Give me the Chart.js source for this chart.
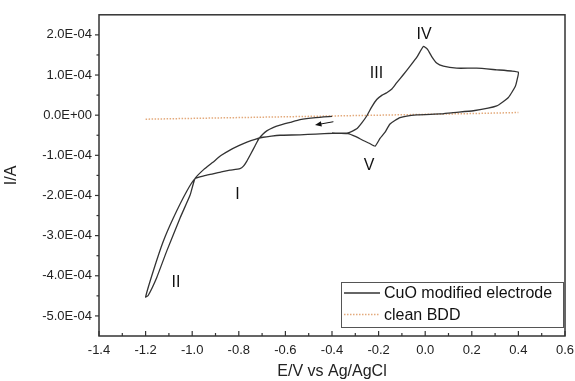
<!DOCTYPE html>
<html><head><meta charset="utf-8">
<script src="https://cdn.jsdelivr.net/npm/chart.js@4"></script>
<style>html,body{margin:0;padding:0;background:#fff;}#wrap{width:575px;height:381px;}</style>
</head><body><div id="wrap"><canvas id="c" width="575" height="381"></canvas></div>
<script>
// CuO modified electrode cyclic voltammogram (E in V, I in A)
const cvPotential = [
 -0.400,-0.470,-0.537,-0.580,-0.623,-0.653,-0.680,-0.696,-0.713,-0.730,-0.750,-0.766,-0.780,-0.795,-0.838,-0.875,-0.911,-0.950,-0.988,-1.024,-1.081,-1.124,-1.167,-1.200,
 -1.189,-1.152,-1.109,-1.052,-1.009,-0.988,-0.950,-0.911,-0.875,-0.838,-0.800,-0.765,-0.730,-0.696,-0.660,-0.623,-0.537,-0.470,-0.396,-0.331,
 -0.294,-0.272,-0.251,-0.230,-0.208,-0.185,-0.165,-0.142,-0.122,-0.095,-0.065,-0.035,-0.008,0.010,0.028,0.049,0.078,0.135,0.221,0.307,0.370,0.400,
 0.396,0.387,0.357,0.307,0.207,0.119,0.064,-0.036,-0.108,-0.151,-0.173,-0.194,-0.215,-0.240,-0.266,-0.300,-0.331,-0.370,-0.400
];
const cvCurrent = [
 -0.03e-4,-0.06e-4,-0.11e-4,-0.18e-4,-0.25e-4,-0.31e-4,-0.39e-4,-0.47e-4,-0.58e-4,-0.76e-4,-0.98e-4,-1.15e-4,-1.27e-4,-1.33e-4,-1.37e-4,-1.41e-4,-1.46e-4,-1.51e-4,-1.58e-4,-1.90e-4,-2.56e-4,-3.14e-4,-3.88e-4,-4.53e-4,
 -4.49e-4,-4.04e-4,-3.38e-4,-2.56e-4,-1.99e-4,-1.58e-4,-1.35e-4,-1.17e-4,-1.00e-4,-0.87e-4,-0.76e-4,-0.67e-4,-0.60e-4,-0.55e-4,-0.52e-4,-0.50e-4,-0.49e-4,-0.47e-4,-0.45e-4,-0.44e-4,
 -0.34e-4,-0.19e-4,-0.02e-4,0.20e-4,0.39e-4,0.50e-4,0.56e-4,0.66e-4,0.81e-4,1.00e-4,1.22e-4,1.45e-4,1.71e-4,1.64e-4,1.46e-4,1.30e-4,1.22e-4,1.17e-4,1.17e-4,1.13e-4,1.10e-4,1.07e-4,
 0.92e-4,0.72e-4,0.44e-4,0.23e-4,0.11e-4,0.066e-4,0.03e-4,0.01e-4,-0.06e-4,-0.22e-4,-0.43e-4,-0.58e-4,-0.77e-4,-0.70e-4,-0.63e-4,-0.53e-4,-0.46e-4,-0.45e-4,-0.44e-4
];
// clean BDD
const bddPotential = [-1.2,-1.0,-0.8,-0.6,-0.4,-0.2,0.0,0.2,0.4];
const bddCurrent = [-0.10e-4,-0.08e-4,-0.06e-4,-0.04e-4,-0.02e-4,0.0,0.02e-4,0.04e-4,0.066e-4];

const seriesNames = ['CuO modified electrode','clean BDD'];
const xTickValues = [-1.4,-1.2,-1.0,-0.8,-0.6,-0.4,-0.2,0.0,0.2,0.4,0.6];
const yTickValues = [-5e-4,-4e-4,-3e-4,-2e-4,-1e-4,0,1e-4,2e-4];
const yTickLabels = ['-5.0E-04','-4.0E-04','-3.0E-04','-2.0E-04','-1.0E-04','0.0E+00','1.0E-04','2.0E-04'];
// peak annotations
const peakNames = ['I','II','III','IV','V'];
const peakPotential = [-0.806,-1.070,-0.209,-0.005,-0.241];
const peakCurrent = [-1.98e-4,-4.16e-4,1.03e-4,2.01e-4,-1.25e-4];
// scan-direction arrow (tail, head)
const arrowPotential = [-0.394,-0.473];
const arrowCurrent = [-0.163e-4,-0.246e-4];

const toXY = (xs, ys) => xs.map((x, i) => ({x: x, y: ys[i]}));
const FONT = "'Liberation Sans', Arial, sans-serif";

const decor = {
  id: 'decor',
  afterDraw(chart) {
    const ctx = chart.ctx, a = chart.chartArea;
    const xs = chart.scales.x, ys = chart.scales.y;
    ctx.save();
    ctx.strokeStyle = '#333'; ctx.lineWidth = 1.5;
    ctx.strokeRect(a.left, a.top, a.right - a.left, a.bottom - a.top);
    ctx.lineWidth = 1.2;
    for (let i = 0; i < xTickValues.length; i++) {
      const px = xs.getPixelForValue(xTickValues[i]);
      ctx.beginPath(); ctx.moveTo(px, a.bottom); ctx.lineTo(px, a.bottom - 5); ctx.stroke();
      if (i < xTickValues.length - 1) {
        const pm = xs.getPixelForValue((xTickValues[i] + xTickValues[i + 1]) / 2);
        ctx.beginPath(); ctx.moveTo(pm, a.bottom); ctx.lineTo(pm, a.bottom - 3); ctx.stroke();
      }
    }
    for (let i = 0; i < yTickValues.length; i++) {
      const py = ys.getPixelForValue(yTickValues[i]);
      ctx.beginPath(); ctx.moveTo(a.left, py); ctx.lineTo(a.left - 4, py); ctx.stroke();
      if (i < yTickValues.length - 1) {
        const pm = ys.getPixelForValue((yTickValues[i] + yTickValues[i + 1]) / 2);
        ctx.beginPath(); ctx.moveTo(a.left, pm); ctx.lineTo(a.left - 2.5, pm); ctx.stroke();
      }
    }
    ctx.fillStyle = '#111';
    ctx.font = '16px ' + FONT;
    ctx.textAlign = 'center'; ctx.textBaseline = 'middle';
    for (let i = 0; i < peakNames.length; i++) {
      ctx.fillText(peakNames[i], xs.getPixelForValue(peakPotential[i]), ys.getPixelForValue(peakCurrent[i]));
    }
    const x0 = xs.getPixelForValue(arrowPotential[0]), y0 = ys.getPixelForValue(arrowCurrent[0]);
    const x1 = xs.getPixelForValue(arrowPotential[1]), y1 = ys.getPixelForValue(arrowCurrent[1]);
    const ang = Math.atan2(y1 - y0, x1 - x0);
    ctx.strokeStyle = '#111'; ctx.lineWidth = 1;
    ctx.beginPath(); ctx.moveTo(x0, y0); ctx.lineTo(x1 - 4 * Math.cos(ang), y1 - 4 * Math.sin(ang)); ctx.stroke();
    ctx.beginPath();
    ctx.moveTo(x1, y1);
    ctx.lineTo(x1 - 7 * Math.cos(ang - 0.4), y1 - 7 * Math.sin(ang - 0.4));
    ctx.lineTo(x1 - 7 * Math.cos(ang + 0.4), y1 - 7 * Math.sin(ang + 0.4));
    ctx.closePath(); ctx.fill();
    const lw = 222, lh = 45;
    const lx = a.right - 2 - lw, ly = a.bottom - 9 - lh;
    ctx.fillStyle = '#fff';
    ctx.fillRect(lx, ly, lw, lh);
    ctx.strokeStyle = '#555'; ctx.lineWidth = 1;
    ctx.strokeRect(lx + 0.5, ly + 0.5, lw, lh);
    ctx.textAlign = 'left'; ctx.textBaseline = 'middle';
    chart.data.datasets.forEach((ds, i) => {
      const yy = ly + 11 + i * 21.5;
      ctx.strokeStyle = ds.borderColor; ctx.lineWidth = ds.borderWidth;
      ctx.setLineDash(ds.borderDash || []);
      ctx.beginPath(); ctx.moveTo(lx + 3, yy); ctx.lineTo(lx + 39, yy); ctx.stroke();
      ctx.setLineDash([]);
      ctx.fillStyle = '#111';
      ctx.font = '16px ' + FONT;
      ctx.fillText(ds.label, lx + 43, yy + 1);
    });
    ctx.restore();
  }
};

new Chart(document.getElementById('c'), {
  type: 'scatter',
  data: {
    datasets: [
      {label: seriesNames[0], data: toXY(cvPotential, cvCurrent), showLine: true, pointRadius: 0,
       borderColor: '#333', borderWidth: 1.3, tension: 0.15, fill: false},
      {label: seriesNames[1], data: toXY(bddPotential, bddCurrent), showLine: true, pointRadius: 0,
       borderColor: '#e3aa7c', borderWidth: 1.5, borderDash: [1.5, 1.5], tension: 0, fill: false}
    ]
  },
  options: {
    responsive: false, animation: false, devicePixelRatio: 1,
    layout: {padding: {top: 10, right: 10, left: 0, bottom: 0}},
    plugins: {legend: {display: false}, tooltip: {enabled: false}},
    scales: {
      x: {
        type: 'linear', min: -1.4, max: 0.6,
        afterBuildTicks: s => { s.ticks = xTickValues.map(v => ({value: v})); },
        afterFit: s => { s.height = 45; s.paddingRight = 0; s.paddingLeft = 0; },
        grid: {display: false, drawTicks: false}, border: {display: false},
        ticks: {font: {family: FONT, size: 13}, color: '#222', padding: 7, maxRotation: 0,
                callback: v => Number(v).toFixed(1)},
        title: {display: true, text: 'E/V vs Ag/AgCl', font: {family: FONT, size: 16}, color: '#222', padding: {top: 0, bottom: 0}}
      },
      y: {
        type: 'linear', min: -5.5e-4, max: 2.5e-4,
        afterBuildTicks: s => { s.ticks = yTickValues.map(v => ({value: v})); },
        afterFit: s => { s.width = 99; },
        grid: {display: false, drawTicks: false}, border: {display: false},
        ticks: {font: {family: FONT, size: 13}, color: '#222', padding: 7,
                callback: (v, i) => yTickLabels[i]},
        title: {display: true, text: 'I/A', font: {family: FONT, size: 16}, color: '#222', padding: {top: 2, bottom: 0}}
      }
    }
  },
  plugins: [decor]
});
</script>
</body></html>
